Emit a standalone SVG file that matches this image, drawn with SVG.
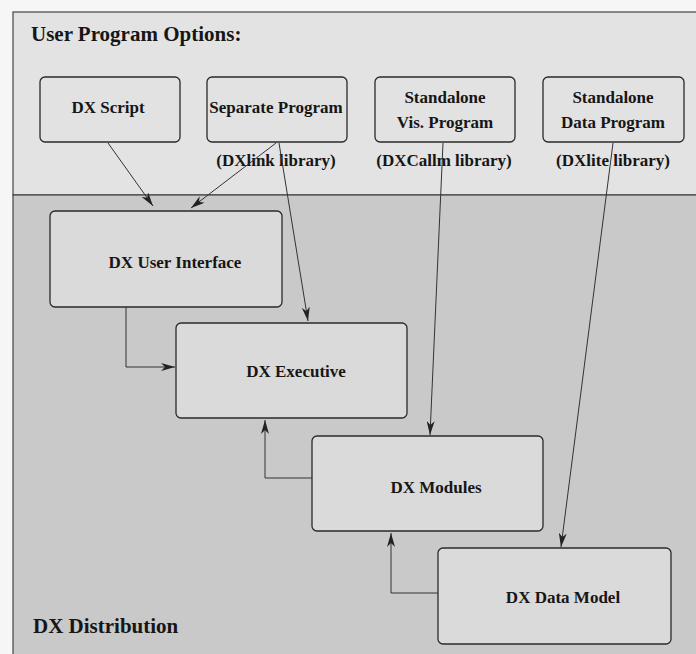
<svg xmlns="http://www.w3.org/2000/svg" width="696" height="654" viewBox="0 0 696 654">
<style>
text{font-family:"Liberation Serif","Times New Roman",serif;font-weight:bold;fill:#161616}
.t{font-size:21px}
.b{font-size:17px;text-anchor:middle}
.box{stroke:#2a2a2a;stroke-width:1.3}
.up{fill:#e2e2e2}
.lo{fill:#dadada}
.c{fill:none;stroke:#333;stroke-width:1}
</style>
<defs>
<marker id="ah" viewBox="0 0 14 8" refX="14" refY="4" markerWidth="14" markerHeight="8" markerUnits="userSpaceOnUse" orient="auto">
<path d="M0,0 L14,4 L0,8 L4,4 z" fill="#222"/>
</marker>
</defs>
<rect x="0" y="0" width="696" height="654" fill="#f6f6f6"/>
<rect x="13" y="12" width="690" height="183" fill="#e3e3e3" stroke="#444" stroke-width="1.2"/>
<rect x="13" y="195" width="690" height="470" fill="#c9c9c9" stroke="#444" stroke-width="1.2"/>
<text class="t" x="31" y="41">User Program Options:</text>
<text class="t" x="33" y="633">DX Distribution</text>

<g id="dxscript"><rect class="box up" x="40" y="77" width="140" height="65" rx="5"/><text class="b" x="108" y="113">DX Script</text></g>
<g id="separate"><rect class="box up" x="207" y="77" width="140" height="65" rx="5"/><text class="b" x="276" y="113">Separate Program</text><text class="b" x="276" y="166">(DXlink library)</text></g>
<g id="visprog"><rect class="box up" x="375" y="77" width="140" height="65" rx="5"/><text class="b" x="445" y="103">Standalone</text><text class="b" x="445" y="128">Vis. Program</text><text class="b" x="444" y="166">(DXCallm library)</text></g>
<g id="dataprog"><rect class="box up" x="543" y="77" width="141" height="65" rx="5"/><text class="b" x="613" y="103">Standalone</text><text class="b" x="613" y="128">Data Program</text><text class="b" x="613" y="166">(DXlite library)</text></g>

<g id="ui"><rect class="box lo" x="50" y="211" width="232" height="96" rx="5"/><text class="b" x="175" y="268">DX User Interface</text></g>
<g id="exec"><rect class="box lo" x="176" y="323" width="231" height="95" rx="5"/><text class="b" x="296" y="377">DX Executive</text></g>
<g id="modules"><rect class="box lo" x="312" y="436" width="231" height="95" rx="5"/><text class="b" x="436" y="493">DX Modules</text></g>
<g id="datamodel"><rect class="box lo" x="438" y="548" width="233" height="96" rx="5"/><text class="b" x="563" y="603">DX Data Model</text></g>

<g id="connectors">
<line class="c" x1="108" y1="143" x2="153" y2="206" marker-end="url(#ah)"/>
<line class="c" x1="276" y1="143" x2="191" y2="208" marker-end="url(#ah)"/>
<line class="c" x1="279" y1="143" x2="308" y2="321" marker-end="url(#ah)"/>
<polyline class="c" points="126,307 126,367 175,367" marker-end="url(#ah)"/>
<line class="c" x1="443" y1="143" x2="430" y2="435" marker-end="url(#ah)"/>
<line class="c" x1="613" y1="143" x2="561" y2="547" marker-end="url(#ah)"/>
<polyline class="c" points="312,478 265,478 265,420" marker-end="url(#ah)"/>
<polyline class="c" points="438,593 391,593 391,533" marker-end="url(#ah)"/>
</g>
</svg>
